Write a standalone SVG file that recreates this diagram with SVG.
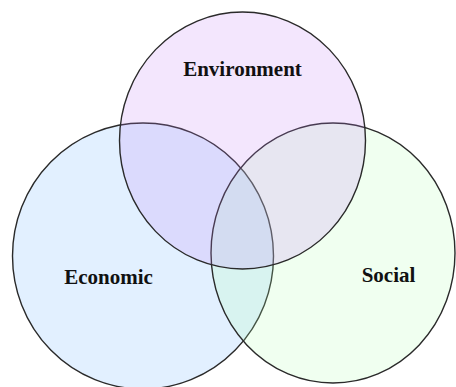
<svg xmlns="http://www.w3.org/2000/svg" width="456" height="387" viewBox="0 0 456 387">
<style>
.c{stroke:#2a2a2a;stroke-width:1.4;fill-opacity:0.2}
.t{font-family:"Liberation Serif","Times New Roman",serif;font-weight:bold;font-size:21px;fill:#111;text-anchor:middle}
</style>
<rect width="456" height="387" fill="#ffffff"/>
<g id="economic">
<ellipse class="c" cx="143" cy="256" rx="130.5" ry="133" fill="#6eb4ff"/>
</g>
<g id="social">
<ellipse class="c" cx="333" cy="253" rx="122" ry="130" fill="#b4ffb4"/>
</g>
<g id="environment">
<ellipse class="c" cx="242.5" cy="140.5" rx="123" ry="128.5" fill="#c382f5"/>
</g>
<g id="labels">
<text class="t" x="242.5" y="76">Environment</text>
<text class="t" x="108.5" y="284">Economic</text>
<text class="t" x="388.5" y="282">Social</text>
</g>
</svg>
